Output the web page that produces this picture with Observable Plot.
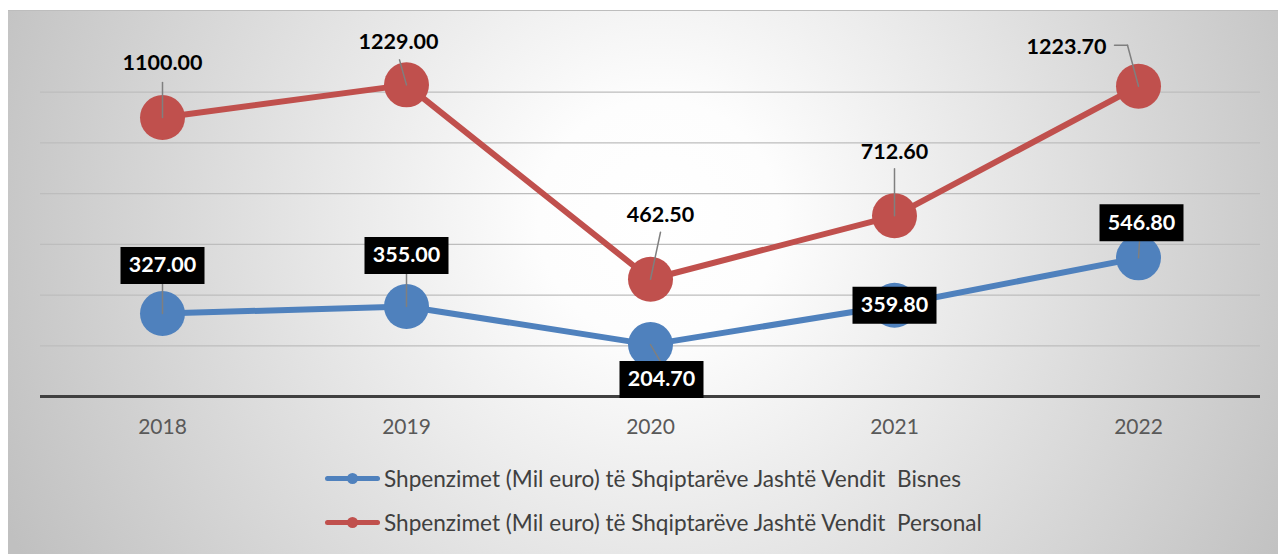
<!DOCTYPE html>
<html>
<head>
<meta charset="utf-8">
<script src="https://cdn.jsdelivr.net/npm/d3@7"></script>
<script src="https://cdn.jsdelivr.net/npm/@observablehq/plot@0.6"></script>
<style>
  html, body { margin: 0; padding: 0; background: #ffffff; }
  #chart {
    position: absolute; left: 8px; top: 10px; width: 1270px; height: 544px; overflow: hidden;
    background: radial-gradient(circle at 650px 210px, #ffffff 0px, #fdfdfd 120px, #c0c0c0 720px);
    box-shadow: inset 0 1px 0 #bdbdbd;
  }
  #plot { position: absolute; left: 0; top: 0; }
  #legend { position: absolute; left: 317px; top: 446px; font-family: Lato, sans-serif; font-size: 22.6px; color: #404040; }
  .row { height: 44px; display: flex; align-items: center; }
  .sw { position: relative; width: 55px; height: 5px; border-radius: 3px; margin-right: 4px; }
  .sw::after { content: ""; position: absolute; left: 22px; top: -3px; width: 11px; height: 11px; border-radius: 50%; background: inherit; }
  .lt { white-space: pre; }
</style>
</head>
<body>
<div id="chart"><div id="plot"></div><div id="legend"></div></div>
<script>
// ---- data ----
const years = ["2018", "2019", "2020", "2021", "2022"];
const bisnes = [327.0, 355.0, 204.7, 359.8, 546.8];
const personal = [1100.0, 1229.0, 462.5, 712.6, 1223.7];
const seriesNames = [
  "Shpenzimet (Mil euro) të Shqiptarëve Jashtë Vendit  Bisnes",
  "Shpenzimet (Mil euro) të Shqiptarëve Jashtë Vendit  Personal"
];
const gridValues = [200, 400, 600, 800, 1000, 1200];

// ---- label layout (pixel offsets of label centre, and leader end) ----
const personalLabelOffset = [[0, -54], [-8, -43], [10, -64], [0, -64], [-72, -39]];
const personalLeaderEnd = [[0, -35], [-7, -25], [10, -47], [0, -47], [-11, -41]];
const bisnesLabelOffset = [[0, -48], [0, -51], [11, 35], [0, 0], [3, -35]];
const bisnesLeaderEnd = [[0, -30], [0, -33], [10, 17], [0, 0], [1, -16]];

const colors = { Bisnes: "#4F81BD", Personal: "#C0504D" };
const fmt = d3.format(".2f");

const rowsB = years.map((year, i) => ({ year, value: bisnes[i], series: "Bisnes" }));
const rowsP = years.map((year, i) => ({ year, value: personal[i], series: "Personal" }));

const lineShape = { draw(context, l) { context.moveTo(0, 0); context.lineTo(0, -l); } };
const boxSymbol = { draw(context) { context.rect(-42, -18.5, 84, 37); } };

function leader(row, [lx, ly], extra = {}) {
  const L = Math.hypot(lx, ly);
  if (L < 1) return null;
  const R = Math.atan2(lx, -ly) * 180 / Math.PI;
  return Plot.vector([row], { x: "year", y: "value", length: L, rotate: R, anchor: "start",
    shape: lineShape, stroke: "#7f7f7f", strokeWidth: 1.5, ...extra });
}

const marks = [
  Plot.ruleY(gridValues, { stroke: "#bdbdbd", strokeWidth: 1.3 }),
  Plot.ruleY([0], { stroke: "#404040", strokeWidth: 3 }),
  Plot.axisX({ tickSize: 0, tickPadding: 23, fontSize: 21, label: null }),
  Plot.line(rowsB, { x: "year", y: "value", stroke: colors.Bisnes, strokeWidth: 6 }),
  Plot.dot(rowsB, { x: "year", y: "value", r: 22.5, fill: colors.Bisnes }),
  Plot.line(rowsP, { x: "year", y: "value", stroke: colors.Personal, strokeWidth: 6 }),
  Plot.dot(rowsP, { x: "year", y: "value", r: 22.5, fill: colors.Personal })
];

rowsP.forEach((row, i) => {
  marks.push(leader(row, personalLeaderEnd[i]));
});
// bent leader for the last personal label
marks.push(leader(rowsP[4], [-13, 0], { dx: -11, dy: -41 }));
rowsB.forEach((row, i) => {
  marks.push(leader(row, bisnesLeaderEnd[i]));
});
rowsP.forEach((row, i) => {
  const [dx, dy] = personalLabelOffset[i];
  marks.push(Plot.text([row], { x: "year", y: "value", text: d => fmt(d.value), dx, dy,
    fontWeight: "bold", fontSize: 21.5, fill: "#000000" }));
});
rowsB.forEach((row, i) => {
  const [dx, dy] = bisnesLabelOffset[i];
  marks.push(Plot.dot([row], { x: "year", y: "value", dx, dy, symbol: boxSymbol, fill: "#000000", r: 10 }));
  marks.push(Plot.text([row], { x: "year", y: "value", text: d => fmt(d.value), dx, dy,
    fontWeight: "bold", fontSize: 21.5, fill: "#ffffff" }));
});

const chart = Plot.plot({
  width: 1270, height: 440,
  marginLeft: 32, marginRight: 18, marginTop: 31, marginBottom: 54,
  style: { background: "transparent", fontFamily: "Lato, sans-serif", fontSize: "21px", color: "#595959", overflow: "visible" },
  x: { type: "point", domain: years, padding: 0.5 },
  y: { domain: [0, 1400], axis: null },
  marks: marks.filter(Boolean)
});
document.getElementById("plot").appendChild(chart);

// legend
const legend = document.getElementById("legend");
["Bisnes", "Personal"].forEach((s, i) => {
  const row = document.createElement("div");
  row.className = "row";
  const sw = document.createElement("span");
  sw.className = "sw";
  sw.style.background = colors[s];
  const t = document.createElement("span");
  t.className = "lt";
  t.textContent = seriesNames[i];
  row.appendChild(sw); row.appendChild(t);
  legend.appendChild(row);
});
</script>
</body>
</html>
